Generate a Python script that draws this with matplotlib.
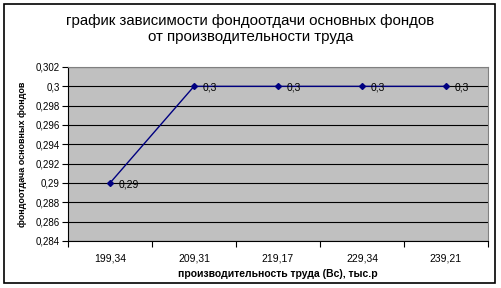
import matplotlib
matplotlib.use('Agg')
import matplotlib.pyplot as plt
from matplotlib.patches import Rectangle

plt.rcParams['font.family'] = ['Liberation Sans', 'DejaVu Sans']

# данные
categories = ['199,34', '209,31', '219,17', '229,34', '239,21']
values = [0.29, 0.3, 0.3, 0.3, 0.3]
point_labels = ['0,29', '0,3', '0,3', '0,3', '0,3']
y_ticks = [0.284, 0.286, 0.288, 0.29, 0.292, 0.294, 0.296, 0.298, 0.3, 0.302]
y_tick_labels = ['0,284', '0,286', '0,288', '0,29', '0,292', '0,294',
                 '0,296', '0,298', '0,3', '0,302']

fig = plt.figure(figsize=(5.01, 2.88), dpi=100)
fig.patches.append(Rectangle((4 / 501, 5 / 288), 491 / 501, 279 / 288,
                             transform=fig.transFigure, fill=False,
                             edgecolor='black', linewidth=1.2))

ax = fig.add_axes([68 / 501, 47 / 288, 420 / 501, 174 / 288])
ax.set_facecolor('#c0c0c0')

x = list(range(len(categories)))
ax.plot(x, values, color='#000080', linewidth=1, marker='D', markersize=3,
        zorder=3)
for xi, v, lab in zip(x, values, point_labels):
    ax.annotate(lab, (xi, v), xytext=(6, -3), textcoords='offset points',
                fontsize=7.5, color='black', zorder=4)

ax.set_xlim(-0.5, len(categories) - 0.5)
ax.set_ylim(0.284, 0.302)
ax.set_yticks(y_ticks)
ax.set_yticklabels(y_tick_labels)
ax.set_xticks(x)
ax.set_xticklabels(categories)
ax.set_xticks([i - 0.5 for i in range(len(categories) + 1)], minor=True)
ax.tick_params(axis='x', which='major', length=0, pad=9, labelsize=7.5)
ax.tick_params(axis='x', which='minor', length=4, width=0.8, direction='out')
ax.tick_params(axis='y', length=4, width=0.8, labelsize=7, pad=2)

ax.grid(axis='y', color='black', linewidth=0.8)
ax.set_axisbelow(True)
for side in ['top', 'right']:
    ax.spines[side].set_color('#808080')
ax.spines['left'].set_color('black')
ax.spines['bottom'].set_color('black')

ax.set_xlabel('производительность труда (Вс), тыс.р', fontsize=7.5,
              fontweight='bold', labelpad=4)
ax.set_ylabel('фондоотдача основных фондов', fontsize=6.5,
              fontweight='bold', labelpad=6)

fig.text(0.5, 1 - 29 / 288, 'график зависимости фондоотдачи основных фондов\n'
         'от производительности труда', ha='center', va='center',
         fontsize=10.8, linespacing=1.25)

fig.savefig('out.png', dpi=100)
